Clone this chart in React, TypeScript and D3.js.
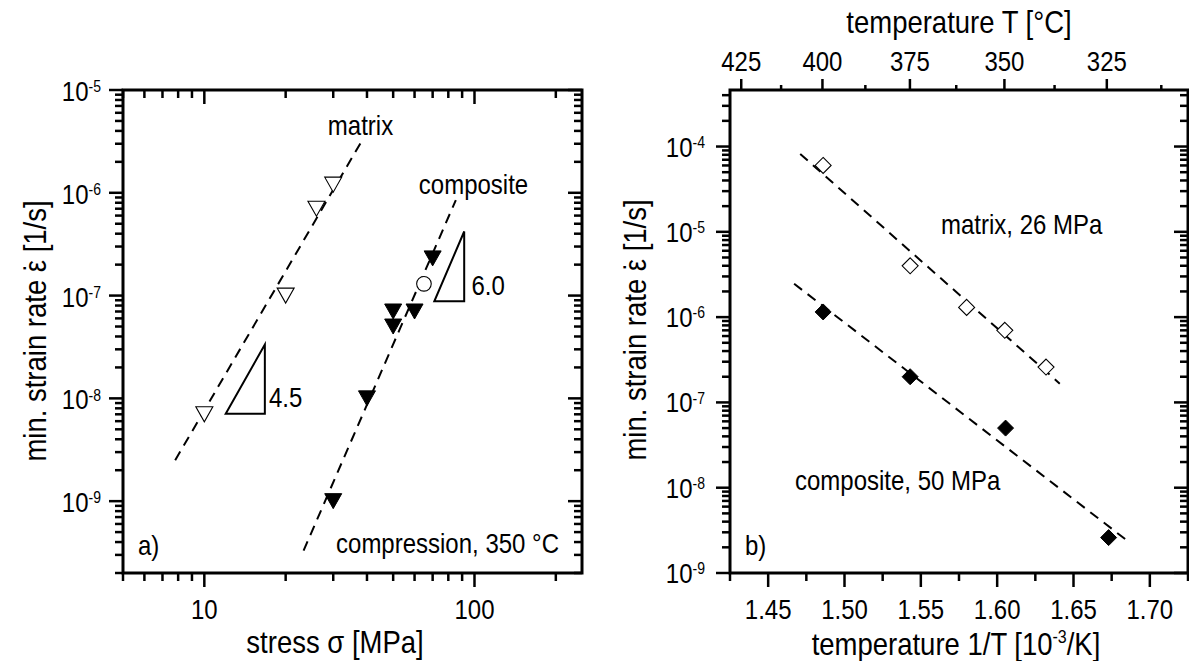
import React from 'react';
import * as d3 from 'd3';

// ---------- data (panel a: rate vs stress, compression 350 °C) ----------
const matrixStress = [10, 20, 26, 30];
const matrixRateA = [7e-9, 1e-7, 7e-7, 1.2e-6];
const compositeStress = [30, 40, 50, 50, 60, 70];
const compositeRateA = [1e-9, 1e-8, 5e-8, 7e-8, 7e-8, 2.3e-7];
const openCircleStress = [65];
const openCircleRate = [1.3e-7];
const matrixFitStress = [7.8, 37.9];
const matrixFitRate = [2.5e-9, 3.06e-6];
const compositeFitStress = [23.3, 85.3];
const compositeFitRate = [3.3e-10, 8.5e-7];
const slope45Stress = [12, 16.75, 16.75];
const slope45Rate = [7.1e-9, 7.1e-9, 3.34e-8];
const slope60Stress = [71, 91.6, 91.6];
const slope60Rate = [8.8e-8, 8.8e-8, 4.2e-7];
const stressTickLabels = [10, 100];

// ---------- data (panel b: rate vs 1/T) ----------
const matrixInvT = [1.486, 1.543, 1.58, 1.605, 1.632];
const matrixRateB = [6e-5, 4e-6, 1.3e-6, 7e-7, 2.6e-7];
const compositeInvT = [1.486, 1.543, 1.6055, 1.673];
const compositeRateB = [1.15e-6, 2e-7, 5e-8, 2.6e-9];
const matrixFitInvT = [1.471, 1.641];
const matrixFitRateB = [8.2e-5, 1.66e-7];
const compositeFitInvT = [1.467, 1.687];
const compositeFitRateB = [2.46e-6, 2.26e-9];
const invTTicks = [1.425, 1.45, 1.475, 1.5, 1.525, 1.55, 1.575, 1.6, 1.625, 1.65, 1.675, 1.7, 1.725];
const invTTickLabels = ['1.45', '1.50', '1.55', '1.60', '1.65', '1.70'];
const tempMajor = [425, 400, 375, 350, 325];
const tempMinor = [412.5, 387.5, 362.5, 337.5, 312.5];

const SY = 1.17;
const FONT = "'Liberation Sans', Arial, Helvetica, sans-serif";

function Txt({ x, y, size, anchor = 'start', rotate = 0, children }: any) {
  return (
    <text
      transform={`translate(${x},${y}) rotate(${rotate}) scale(1,${SY})`}
      fontSize={size}
      textAnchor={anchor}
      fontFamily={FONT}
      fill="#000"
    >
      {children}
    </text>
  );
}

// y-axis title with a dot placed over epsilon
function RateTitle({ x, y }: { x: number; y: number }) {
  return (
    <Txt x={x} y={y} size={27.5} anchor="middle" rotate={-90}>
      <tspan>min. strain rate ε</tspan>
      <tspan dx={-11.5}>˙</tspan>
      <tspan dx={2.3}> [1/s]</tspan>
    </Txt>
  );
}

function logTicks(a: number, b: number) {
  const out: { v: number; major: boolean; e: number }[] = [];
  for (let e = Math.floor(Math.log10(a)); e <= Math.ceil(Math.log10(b)); e++) {
    for (let k = 1; k <= 9; k++) {
      const v = k * Math.pow(10, e);
      if (v >= a * 0.999 && v <= b * 1.001) out.push({ v, major: k === 1, e });
    }
  }
  return out;
}

const triDown = (x: number, y: number) => `M${x - 8.5},${y - 7.5}L${x + 8.5},${y - 7.5}L${x},${y + 7.5}Z`;
const diamond = (x: number, y: number) => `M${x},${y - 8}L${x + 8},${y}L${x},${y + 8}L${x - 8},${y}Z`;

export default function App() {
  // panel a scales
  const xA = d3.scaleLog().domain([5, 250]).range([123, 582]);
  const yA = d3.scaleLog().domain([2e-10, 1e-5]).range([573, 90]);
  // panel b scales
  const xB = d3.scaleLinear().domain([1.425, 1.725]).range([730, 1188]);
  const yB = d3.scaleLog().domain([1e-9, 4.6e-4]).range([573, 90]);
  const cToInv = (c: number) => 1000 / (c + 273.15);

  const line = (xs: number[], ys: number[], sx: any, sy: any) =>
    d3.line<number>().x((_, i) => sx(xs[i])).y((_, i) => sy(ys[i]))(xs.map((_, i) => i)) || '';

  const xTicksA = logTicks(5, 250);
  const yTicksA = logTicks(2e-10, 1e-5);
  const yTicksB = logTicks(1e-9, 4.6e-4);

  const tk = { stroke: '#000', strokeWidth: 2.5 };
  const dash = { fill: 'none', stroke: '#000', strokeWidth: 2, strokeDasharray: '10,7' };

  const [ax0, ax1] = xA.range();
  const [ay0, ay1] = yA.range(); // bottom, top
  const [bx0, bx1] = xB.range();
  const [by0, by1] = yB.range();

  return (
    <svg width={1189} height={661} style={{ position: 'absolute', left: 0, top: 0, background: '#fff' }}>
      <rect x={0} y={0} width={1189} height={661} fill="#fff" />

      {/* ================= Panel a ================= */}
      <g>
        {xTicksA.map((t, i) => {
          const x = xA(t.v);
          const L = t.major ? 14 : 8;
          return (
            <g key={'xa' + i}>
              <line x1={x} x2={x} y1={ay0} y2={ay0 + L} {...tk} />
              <line x1={x} x2={x} y1={ay1} y2={ay1 + L} {...tk} />
            </g>
          );
        })}
        {yTicksA.map((t, i) => {
          const y = yA(t.v);
          const L = t.major ? 14 : 8;
          return (
            <g key={'ya' + i}>
              <line x1={ax0 - L} x2={ax0} y1={y} y2={y} {...tk} />
              <line x1={ax1 - L} x2={ax1} y1={y} y2={y} {...tk} />
            </g>
          );
        })}
        <rect x={ax0} y={ay1} width={ax1 - ax0} height={ay0 - ay1} fill="none" stroke="#000" strokeWidth={3} />

        {stressTickLabels.map((v) => (
          <Txt key={'sl' + v} x={xA(v)} y={619} size={24} anchor="middle">{String(v)}</Txt>
        ))}
        {yTicksA.filter((t) => t.major).map((t) => (
          <Txt key={'yla' + t.e} x={ax0 - 22} y={yA(t.v) + 11} size={24} anchor="end">
            <tspan>10</tspan>
            <tspan fontSize={14} dy={-7.5}>{'-' + Math.abs(t.e)}</tspan>
          </Txt>
        ))}

        <Txt x={335} y={653} size={27.5} anchor="middle">stress σ [MPa]</Txt>
        <RateTitle x={46} y={331} />

        <path d={line(matrixFitStress, matrixFitRate, xA, yA)} {...dash} />
        <path d={line(compositeFitStress, compositeFitRate, xA, yA)} {...dash} />

        {matrixStress.map((s, i) => (
          <path key={'ma' + i} d={triDown(xA(s), yA(matrixRateA[i]))} fill="#fff" stroke="#000" strokeWidth={1.1} />
        ))}
        {compositeStress.map((s, i) => (
          <path key={'ca' + i} d={triDown(xA(s), yA(compositeRateA[i]))} fill="#000" stroke="#000" strokeWidth={1} />
        ))}
        {openCircleStress.map((s, i) => (
          <circle key={'oc' + i} cx={xA(s)} cy={yA(openCircleRate[i])} r={7.3} fill="#fff" stroke="#000" strokeWidth={1.1} />
        ))}

        <path d={line(slope45Stress, slope45Rate, xA, yA) + 'Z'} fill="none" stroke="#000" strokeWidth={2} />
        <path d={line(slope60Stress, slope60Rate, xA, yA) + 'Z'} fill="none" stroke="#000" strokeWidth={2} />
        <Txt x={269} y={406.5} size={24}>4.5</Txt>
        <Txt x={471.5} y={295} size={24}>6.0</Txt>

        <Txt x={360.5} y={135} size={24} anchor="middle">matrix</Txt>
        <Txt x={473.5} y={194} size={24} anchor="middle">composite</Txt>
        <Txt x={559} y={553} size={24} anchor="end">compression, 350 °C</Txt>
        <Txt x={138} y={555} size={24}>a)</Txt>
      </g>

      {/* ================= Panel b ================= */}
      <g>
        {invTTicks.map((v, i) => {
          const x = xB(v);
          const major = Math.abs(Math.round(v * 20) - v * 20) < 1e-6;
          const L = major ? 14 : 8;
          return <line key={'xb' + i} x1={x} x2={x} y1={by0} y2={by0 + L} {...tk} />;
        })}
        {tempMajor.map((c) => (
          <line key={'tm' + c} x1={xB(cToInv(c))} x2={xB(cToInv(c))} y1={by1} y2={by1 - 11} {...tk} />
        ))}
        {tempMinor.map((c) => (
          <line key={'tn' + c} x1={xB(cToInv(c))} x2={xB(cToInv(c))} y1={by1} y2={by1 - 5} {...tk} />
        ))}
        {yTicksB.map((t, i) => {
          const y = yB(t.v);
          const L = t.major ? 14 : 8;
          return (
            <g key={'yb' + i}>
              <line x1={bx0 - L} x2={bx0} y1={y} y2={y} {...tk} />
              <line x1={bx1 - L} x2={bx1} y1={y} y2={y} {...tk} />
            </g>
          );
        })}
        <rect x={bx0} y={by1} width={bx1 - bx0} height={by0 - by1} fill="none" stroke="#000" strokeWidth={3} />

        {invTTickLabels.map((s) => (
          <Txt key={'bl' + s} x={xB(+s)} y={619} size={24} anchor="middle">{s}</Txt>
        ))}
        {tempMajor.map((c) => (
          <Txt key={'tl' + c} x={xB(cToInv(c))} y={70.5} size={24} anchor="middle">{String(c)}</Txt>
        ))}
        {yTicksB.filter((t) => t.major).map((t) => (
          <Txt key={'ylb' + t.e} x={bx0 - 25} y={yB(t.v) + 10} size={24} anchor="end">
            <tspan>10</tspan>
            <tspan fontSize={14} dy={-7.5}>{'-' + Math.abs(t.e)}</tspan>
          </Txt>
        ))}

        <Txt x={959} y={33} size={27.5} anchor="middle">temperature T [°C]</Txt>
        <Txt x={956} y={655} size={27.5} anchor="middle">
          <tspan>temperature 1/T [10</tspan>
          <tspan fontSize={16} dy={-10}>-3</tspan>
          <tspan dy={10}>/K]</tspan>
        </Txt>
        <RateTitle x={646} y={330} />

        <path d={line(matrixFitInvT, matrixFitRateB, xB, yB)} {...dash} />
        <path d={line(compositeFitInvT, compositeFitRateB, xB, yB)} {...dash} />

        {matrixInvT.map((v, i) => (
          <path key={'mb' + i} d={diamond(xB(v), yB(matrixRateB[i]))} fill="#fff" stroke="#000" strokeWidth={1.1} />
        ))}
        {compositeInvT.map((v, i) => (
          <path key={'cb' + i} d={diamond(xB(v), yB(compositeRateB[i]))} fill="#000" stroke="#000" strokeWidth={1} />
        ))}

        <Txt x={941} y={233.5} size={24}>matrix, 26 MPa</Txt>
        <Txt x={795} y={490} size={24}>composite, 50 MPa</Txt>
        <Txt x={745} y={555} size={24}>b)</Txt>
      </g>
    </svg>
  );
}
